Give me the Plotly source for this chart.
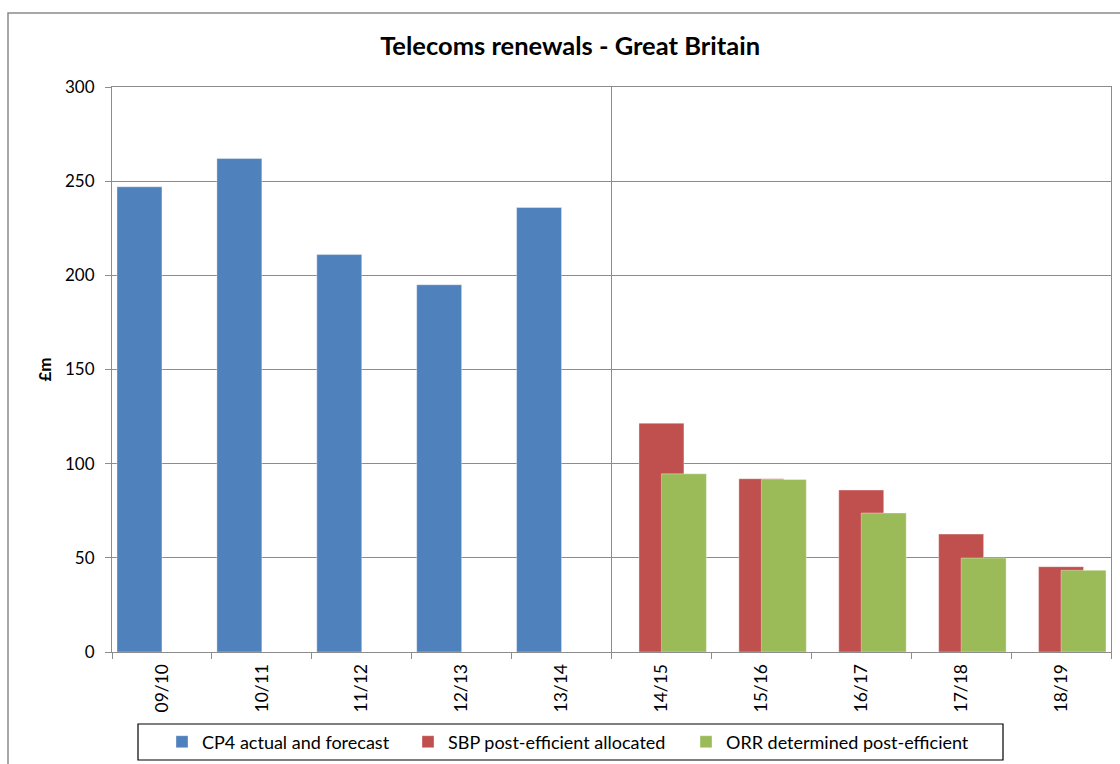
import plotly.graph_objects as go

# Financial years shown on the category axis
years = ["09/10", "10/11", "11/12", "12/13", "13/14",
         "14/15", "15/16", "16/17", "17/18", "18/19"]

# £m per year; None where a series has no value
cp4_actual = [247, 262, 211, 195, 236, None, None, None, None, None]
sbp_allocated = [None, None, None, None, None, 121.5, 92, 86, 62.6, 45.3]
orr_determined = [None, None, None, None, None, 94.6, 91.6, 73.8, 49.9, 43.4]

series_names = ["CP4 actual and forecast",
                "SBP post-efficient allocated",
                "ORR determined post-efficient"]

FONT = "Lato, Calibri, Carlito, sans-serif"
GRID = "#8c8c8c"
W_BAR = 0.45

# plot area in pixels: x 112..1111, y 87..652
PX_L, PX_W, PX_B, PX_H = 112, 999, 652, 565


def px_x(p):
    return (p - PX_L) / PX_W


def px_y(p):
    return (PX_B - p) / PX_H


# one legend per series so each entry can sit at its own spot in the key box
legend_ids = ["legend", "legend2", "legend3"]
legend_left = [162, 408, 686]

fig = go.Figure()
for vals, name, color, off, lg in [
    (cp4_actual, series_names[0], "#4F81BD", -0.45, legend_ids[0]),
    (sbp_allocated, series_names[1], "#C0504D", -0.225, legend_ids[1]),
    (orr_determined, series_names[2], "#9BBB59", 0.0, legend_ids[2]),
]:
    fig.add_trace(go.Bar(
        x=years, y=vals, name=name, legend=lg,
        marker=dict(color=color, line=dict(color="rgba(255,255,255,0.6)", width=0.6)),
        offset=off, width=W_BAR,
    ))

legend_style = dict(orientation="h", xanchor="left", y=px_y(742), yanchor="middle",
                    bgcolor="rgba(0,0,0,0)", borderwidth=0,
                    font=dict(size=18, family=FONT), itemwidth=30)

fig.update_layout(
    width=1120, height=764,
    margin=dict(l=112, r=9, t=87, b=112, autoexpand=False),
    paper_bgcolor="white", plot_bgcolor="white",
    barmode="overlay",
    font=dict(family=FONT, size=17, color="black"),
    title=dict(text="<b>Telecoms renewals - Great Britain</b>",
               x=0.509, xanchor="center", y=1 - 46 / 764, yanchor="middle",
               yref="container", font=dict(size=25.5, family=FONT)),
    showlegend=True,
    legend=dict(x=px_x(legend_left[0]), **legend_style),
    legend2=dict(x=px_x(legend_left[1]), **legend_style),
    legend3=dict(x=px_x(legend_left[2]), **legend_style),
)

fig.update_xaxes(
    type="category", range=[-0.5, 9.5],
    showline=True, linecolor=GRID, linewidth=1, mirror=True,
    showgrid=False,
    ticks="outside", tickson="boundaries", ticklen=6, tickcolor=GRID,
    ticklabelstandoff=4,
    tickangle=-90, tickfont=dict(size=17.5, family=FONT),
    automargin=False,
)
fig.update_yaxes(
    range=[0, 300], dtick=50,
    showline=True, linecolor=GRID, linewidth=1, mirror=True,
    showgrid=True, gridcolor=GRID, gridwidth=1,
    ticks="outside", ticklen=6, tickcolor=GRID, ticklabelstandoff=7,
    tickfont=dict(size=17, family=FONT),
    title=dict(text="<b>£m</b>", standoff=9, font=dict(size=17, family=FONT)),
    zeroline=False, automargin=False,
)

# Divider between CP4 years and CP5 years
fig.add_shape(type="line", xref="x", yref="paper",
              x0=4.5, x1=4.5, y0=0, y1=1,
              line=dict(color=GRID, width=1), layer="above")

# Legend frame
fig.add_shape(type="rect", xref="paper", yref="paper",
              x0=px_x(138), x1=px_x(1003), y0=px_y(760), y1=px_y(724),
              line=dict(color="black", width=1.2), fillcolor="white", layer="below")

# Chart frame (runs past the right and bottom edges of the view)
fig.add_shape(type="rect", xref="paper", yref="paper",
              x0=px_x(8), x1=px_x(1130), y0=px_y(780), y1=px_y(13),
              line=dict(color="#8a8a8a", width=1.5), layer="below")

fig.write_html("out.html")
